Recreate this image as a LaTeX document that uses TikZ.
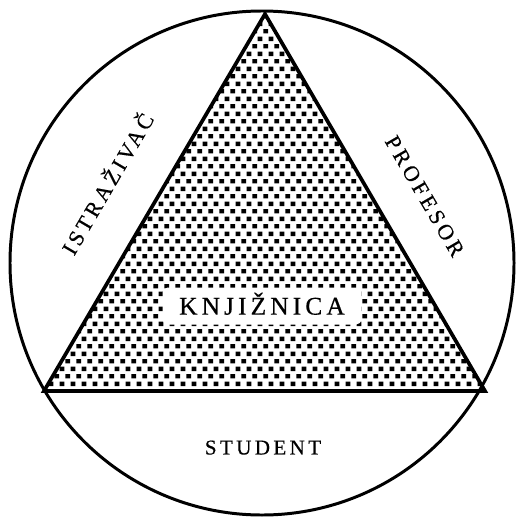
\documentclass[tikz,border=0pt]{standalone}
\usepackage{fontspec}
\setmainfont{Liberation Serif}
\newfontfamily\spacedfont[LetterSpace=16, FakeBold=0.5]{Liberation Serif}
\usetikzlibrary{patterns.meta}

% stippled fill of the triangle
\tikzdeclarepattern{
  name=knjdots,
  type=uncolored,
  bounding box={(0pt,0pt) and (6.2pt,8.8pt)},
  tile size={(6.2pt,8.8pt)},
  code={
    \fill (0.2pt,0.3pt) rectangle ++(2.7pt,2.6pt);
    \fill (3.3pt,4.7pt) rectangle ++(2.7pt,2.6pt);
  }
}

\begin{document}
\begin{tikzpicture}[x=0.02cm, y=-0.02cm,
    rim/.style   = {line width=1.7pt},
    wedge/.style = {line width=2.1pt, line join=miter, pattern=knjdots},
    role/.style  = {font=\spacedfont\fontsize{12.5}{14}\selectfont,
                    inner sep=0pt, text height=8.5pt, text depth=0pt},
    core/.style  = {fill=white, rounded corners=3pt,
                    minimum width=3.98cm, minimum height=0.74cm,
                    font=\spacedfont\fontsize{14.5}{16}\selectfont,
                    text height=9.8pt, text depth=0pt}
  ]
  \useasboundingbox (0,0) rectangle (520,517);

  \coordinate (apex) at (265,14);
  \coordinate (lb)   at (44,391);
  \coordinate (rb)   at (485,391);

  \draw[rim] (262,263) circle[radius=252];
  \draw[wedge] (apex) -- (lb) -- (rb) -- cycle;

  \node[core] (knjiznica) at (262,306) {KNJIŽNICA};

  \node[role, rotate=59.6]  (istrazivac) at (108,184) {ISTRAŽIVAČ};
  \node[role, rotate=-59.7] (profesor)   at (425,196) {PROFESOR};
  \node[role, font=\spacedfont\fontsize{12}{14}\selectfont]
                            (student)    at (263,447) {STUDENT};
\end{tikzpicture}
\end{document}
